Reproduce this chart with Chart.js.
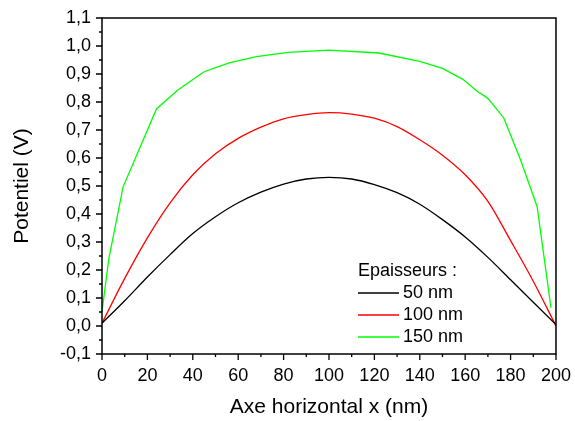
<!DOCTYPE html>
<html>
<head>
<meta charset="utf-8">
<script src="https://cdn.jsdelivr.net/npm/chart.js@4/dist/chart.umd.min.js"></script>
<style>
  html, body { margin: 0; padding: 0; background: #fff; }
  #wrap { width: 575px; height: 421px; }
</style>
</head>
<body>
<div id="wrap"><canvas id="c" width="575" height="421"></canvas></div>
<script>
// ---- data ----
const seriesLabels = ['50 nm', '100 nm', '150 nm'];
const legendTitle = 'Epaisseurs :';
const xTitle = 'Axe horizontal x (nm)';
const yTitle = 'Potentiel (V)';

const xGrid = [0, 10, 20, 30, 40, 50, 60, 70, 80, 90, 100, 110, 120, 130, 140, 150, 160, 170, 180, 190, 200];
const y50  = [0.01, 0.09, 0.175, 0.255, 0.33, 0.39, 0.44, 0.478, 0.507, 0.525, 0.531, 0.525, 0.505, 0.476, 0.435, 0.38, 0.318, 0.245, 0.165, 0.085, 0.005];
const y100 = [0.01, 0.17, 0.315, 0.44, 0.54, 0.615, 0.67, 0.71, 0.74, 0.755, 0.762, 0.757, 0.742, 0.712, 0.665, 0.61, 0.54, 0.445, 0.305, 0.16, 0.0];

const x150 = [0, 3, 9.3, 24, 33.4, 45, 56, 68, 82, 100, 122, 140, 150, 159, 165, 170, 177, 184.4, 191.7, 197.8];
const y150 = [0.051, 0.24, 0.497, 0.775, 0.843, 0.908, 0.94, 0.962, 0.977, 0.985, 0.975, 0.945, 0.92, 0.881, 0.84, 0.813, 0.743, 0.593, 0.426, 0.065];

const xTickValues = [0, 20, 40, 60, 80, 100, 120, 140, 160, 180, 200];
const yTickValues = [-0.1, 0.0, 0.1, 0.2, 0.3, 0.4, 0.5, 0.6, 0.7, 0.8, 0.9, 1.0, 1.1];

const colors = ['#000000', '#ff0000', '#00ff00'];

// ---- build ----
const toPts = (xs, ys) => xs.map((x, i) => ({ x: x, y: ys[i] }));
const FONT = "'Liberation Sans', Arial, sans-serif";

const framePlugin = {
  id: 'frameTicks',
  afterDraw(chart) {
    const { ctx, chartArea: a, scales: { x, y } } = chart;
    ctx.save();
    ctx.strokeStyle = '#000';
    ctx.lineWidth = 1.5;
    ctx.strokeRect(a.left, a.top, a.right - a.left, a.bottom - a.top);
    ctx.lineWidth = 1.3;
    ctx.beginPath();
    for (let i = 0; i < yTickValues.length; i++) {
      const p = y.getPixelForValue(yTickValues[i]);
      ctx.moveTo(a.left - 6, p); ctx.lineTo(a.left, p);
      if (i < yTickValues.length - 1) {
        const m = y.getPixelForValue((yTickValues[i] + yTickValues[i + 1]) / 2);
        ctx.moveTo(a.left - 3, m); ctx.lineTo(a.left, m);
      }
    }
    for (let i = 0; i < xTickValues.length; i++) {
      const p = x.getPixelForValue(xTickValues[i]);
      ctx.moveTo(p, a.bottom); ctx.lineTo(p, a.bottom + 6);
      if (i < xTickValues.length - 1) {
        const m = x.getPixelForValue((xTickValues[i] + xTickValues[i + 1]) / 2);
        ctx.moveTo(m, a.bottom); ctx.lineTo(m, a.bottom + 3);
      }
    }
    ctx.stroke();

    // legend inside the plot
    const lx = a.left + 256, ly = a.top + 253, row = 22;
    ctx.fillStyle = '#000';
    ctx.font = '18px ' + FONT;
    ctx.textBaseline = 'middle';
    ctx.textAlign = 'left';
    ctx.fillText(legendTitle, lx, ly);
    chart.data.datasets.forEach((ds, i) => {
      const yy = ly + row * (i + 1);
      ctx.strokeStyle = ds.borderColor;
      ctx.lineWidth = 1.4;
      ctx.beginPath();
      ctx.moveTo(lx, yy); ctx.lineTo(lx + 41, yy);
      ctx.stroke();
      ctx.fillStyle = '#000';
      ctx.fillText(ds.label, lx + 45, yy);
    });
    ctx.restore();
  }
};

const datasets = [
  { label: seriesLabels[0], data: toPts(xGrid, y50) },
  { label: seriesLabels[1], data: toPts(xGrid, y100) },
  { label: seriesLabels[2], data: toPts(x150, y150) }
].map((d, i) => Object.assign(d, {
  borderColor: colors[i],
  backgroundColor: colors[i],
  borderWidth: 1.3,
  pointRadius: 0,
  fill: false,
  tension: i < 2 ? 0.3 : 0,
  cubicInterpolationMode: i < 2 ? 'monotone' : 'default'
}));

new Chart(document.getElementById('c'), {
  type: 'line',
  data: { datasets },
  options: {
    responsive: false,
    animation: false,
    layout: { padding: { top: 18, right: 16, left: 0, bottom: 0 } },
    plugins: { legend: { display: false }, tooltip: { enabled: false } },
    scales: {
      x: {
        type: 'linear',
        min: 0, max: 200,
        afterFit: (s) => { s.height = 67; },
        afterBuildTicks: (s) => { s.ticks = xTickValues.map(v => ({ value: v })); },
        ticks: {
          color: '#000', font: { family: FONT, size: 18 }, padding: 4,
          maxRotation: 0, autoSkip: false,
          callback: (v) => String(v)
        },
        grid: { display: false, drawTicks: true, tickLength: 7 },
        border: { display: false },
        title: { display: true, text: xTitle, color: '#000', font: { family: FONT, size: 21 }, padding: { top: 0, bottom: 1 } }
      },
      y: {
        type: 'linear',
        min: -0.1, max: 1.1,
        afterFit: (s) => { s.width = 102; },
        afterBuildTicks: (s) => { s.ticks = yTickValues.map(v => ({ value: v })); },
        ticks: {
          color: '#000', font: { family: FONT, size: 18 }, padding: 4,
          autoSkip: false,
          callback: (v) => v.toFixed(1).replace('.', ',').replace('-0,0', '0,0')
        },
        grid: { display: false, drawTicks: true, tickLength: 7 },
        border: { display: false },
        title: { display: true, text: yTitle, color: '#000', font: { family: FONT, size: 21 }, padding: { top: 10, bottom: 0 } }
      }
    }
  },
  plugins: [framePlugin]
});
</script>
</body>
</html>
